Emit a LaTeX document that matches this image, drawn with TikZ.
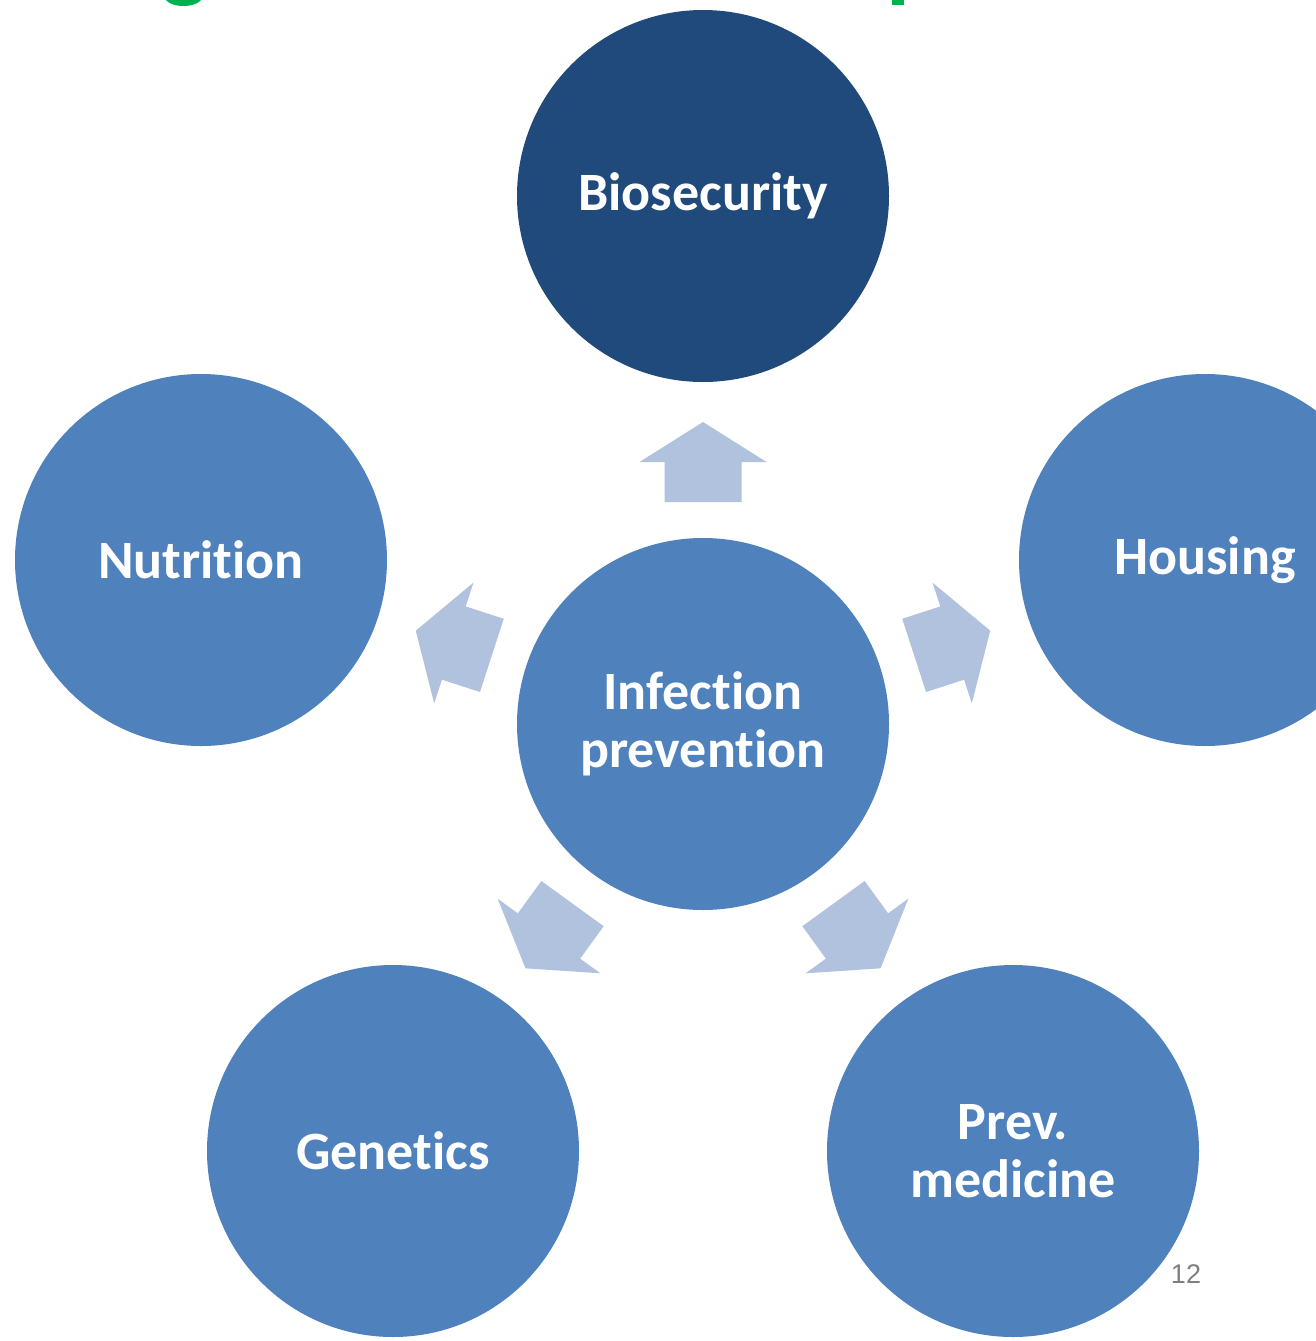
\documentclass[tikz,border=0pt]{standalone}
\usepackage{fontspec}
\setmainfont{Carlito}[Ligatures={NoCommon}]
\newfontfamily\pagefont{Liberation Sans}
\definecolor{darkblue}{HTML}{214A7C}
\definecolor{midblue}{HTML}{4F81BD}
\definecolor{arrowblue}{HTML}{B1C2DE}
\definecolor{titlegreen}{HTML}{00B050}
\definecolor{pagegray}{HTML}{7F7F7F}
\tikzset{
  bubble/.style={circle, fill=midblue, minimum size=372pt, inner sep=0pt,
    text=white, align=center,
    font=\fontsize{54}{58}\selectfont\bfseries},
  hubbubble/.style={bubble, fill=darkblue},
  blockarrow/.style={fill=arrowblue, draw=none},
}
\begin{document}
\begin{tikzpicture}[x={(1pt,0)}, y={(0,-1pt)}]
  \useasboundingbox (0,0) rectangle (1316,1341);
  \clip (0,0) rectangle (1316,1341);
  % fragments of the cut-off title
  \fill[titlegreen] (183.5,-3) ellipse [x radius=18.5, y radius=9];
  \fill[titlegreen] (892,-2) rectangle (904,5);
  % circles
  \node[bubble] (center) at (703,724) {Infection\\prevention};
  \node[hubbubble] (bio) at (703,196) {Biosecurity};
  \node[bubble] (nut) at (201,560) {Nutrition};
  \node[bubble] (hou) at (1205,560) {Housing};
  \node[bubble] (gen) at (393,1151) {Genetics};
  \node[bubble] (prev) at (1013,1151) {Prev.\\medicine};
  % block arrows from the centre
  \foreach \a in {90,18,162,-54,-126}{
    \fill[blockarrow, shift={(center.center)}, rotate=\a]
      (222pt,-38.5pt) -- (262pt,-38.5pt) -- (262pt,-63.5pt) -- (302pt,0pt)
      -- (262pt,63.5pt) -- (262pt,38.5pt) -- (222pt,38.5pt) -- cycle;
  }
  % page number
  \node[text=pagegray, font=\pagefont\fontsize{27}{30}\selectfont] (pagenum) at (1186,1274) {12};
\end{tikzpicture}
\end{document}
